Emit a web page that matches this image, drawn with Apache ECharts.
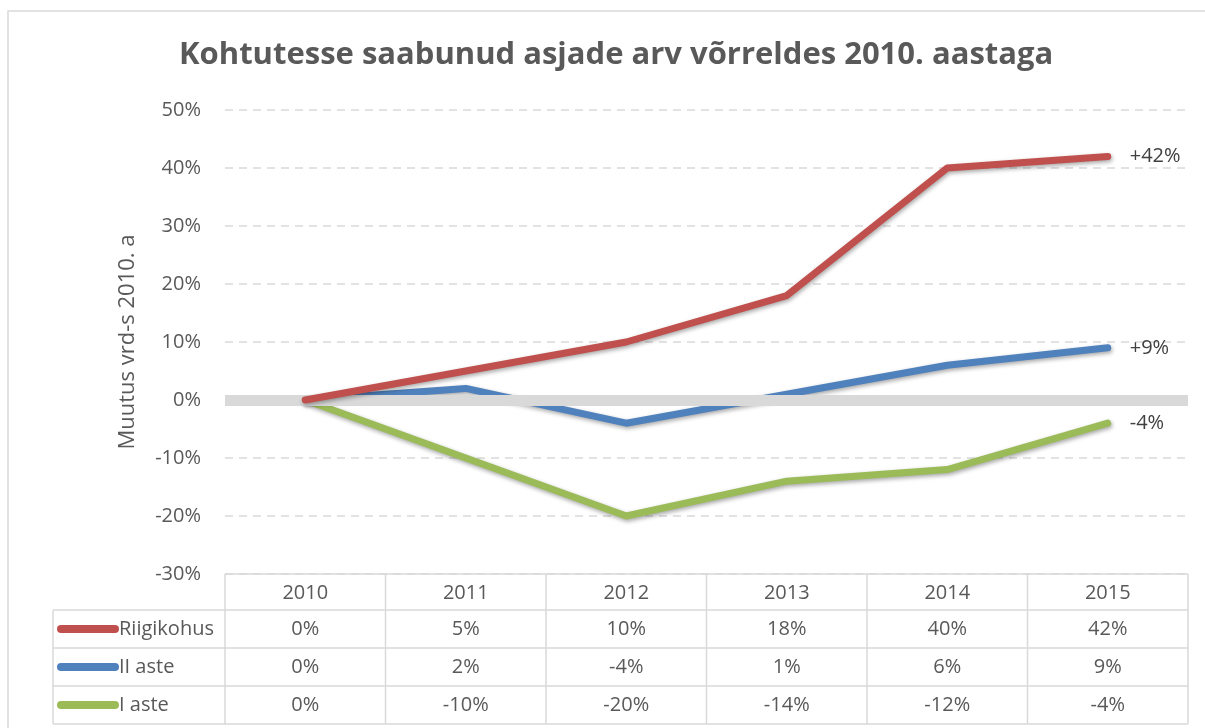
<!DOCTYPE html>
<html><head><meta charset="utf-8">
<script src="https://cdn.jsdelivr.net/npm/echarts@6/dist/echarts.min.js"></script>
<style>html,body{margin:0;padding:0;background:#fff}#c{width:1205px;height:728px}</style>
</head><body><div id="c"></div>
<script>
const titleText = 'Kohtutesse saabunud asjade arv võrreldes 2010. aastaga';
const yAxisName = 'Muutus vrd-s 2010. a';
const years = ['2010','2011','2012','2013','2014','2015'];
const seriesNames = ['Riigikohus','II aste','I aste'];
const riigikohus = [0, 5, 10, 18, 40, 42];
const iiAste = [0, 2, -4, 1, 6, 9];
const iAste = [0, -10, -20, -14, -12, -4];
const colors = ['#c0504d', '#4f81bd', '#9bbb59'];
const endLabels = ['+42%', '+9%', '-4%'];

const allData = [riigikohus, iiAste, iAste];
const FONT = '"Open Sans", "Liberation Sans", sans-serif';
const TXT = '#595959';
const FS = 20;

const chart = echarts.init(document.getElementById('c'));
const gridL = 225, gridR = 17, gridT = 110, gridB = 728 - 574;

const series = [{
  type: 'line', name: 'zero', data: [], z: 1, silent: true,
  markLine: { silent: true, symbol: 'none', label: {show: false},
    lineStyle: { color: '#d9d9d9', width: 11, type: 'solid' },
    data: [{ yAxis: 0 }] }
}];
allData.forEach((d, i) => {
  series.push({
    type: 'line', name: seriesNames[i], data: d, z: 3 + (2 - i),
    symbol: 'none', showSymbol: false, smooth: false,
    lineStyle: { color: colors[i], width: 7, cap: 'round', join: 'round',
      shadowColor: 'rgba(0,0,0,0.35)', shadowBlur: 4, shadowOffsetX: 1, shadowOffsetY: 2 },
    endLabel: { show: true, distance: 22, formatter: () => endLabels[i],
      color: '#404040', fontSize: FS, fontFamily: FONT },
    animation: false
  });
});

chart.setOption({
  animation: false,
  title: { text: titleText, left: 174, top: 35,
    textStyle: { fontFamily: FONT, fontWeight: 'bold', fontSize: 31, color: TXT } },
  grid: { left: gridL, right: gridR, top: gridT, bottom: gridB, containLabel: false },
  xAxis: { type: 'category', data: years, boundaryGap: true,
    axisLine: { show: false }, axisTick: { show: false },
    axisLabel: { color: TXT, fontSize: FS, fontFamily: FONT, margin: 9 } },
  yAxis: { type: 'value', min: -30, max: 50, interval: 10,
    name: yAxisName, nameLocation: 'middle', nameGap: 86, nameRotate: 90,
    nameTextStyle: { color: TXT, fontSize: 22, fontFamily: FONT },
    axisLabel: { formatter: v => v + '%', color: TXT, fontSize: FS, fontFamily: FONT, margin: 24 },
    axisLine: { show: false }, axisTick: { show: false },
    splitLine: { show: true, lineStyle: { color: '#d9d9d9', type: [8, 6], width: 1.5 } } },
  series: series
});

// Data table
const xs = years.map((_, i) => chart.convertToPixel({ xAxisIndex: 0 }, i));
const band = xs[1] - xs[0];
const tableL = 53, colL = xs[0] - band / 2, colR = xs[xs.length - 1] + band / 2;
const rowTop = 574, headH = 36, rowH = 38;
const lc = '#d9d9d9';
const g = [];
g.push({ type: 'rect', shape: { x: 8, y: 11, width: 1205, height: 740 }, style: { fill: 'none', stroke: '#d9d9d9', lineWidth: 1.5 }, z: 0 });
const bottomY = rowTop + headH + rowH * 3;
g.push({ type: 'line', shape: { x1: colL, y1: rowTop, x2: colR, y2: rowTop }, style: { stroke: lc, lineWidth: 1.5 } });
for (let r = 0; r <= 3; r++) {
  const y = rowTop + headH + rowH * r;
  g.push({ type: 'line', shape: { x1: tableL, y1: y, x2: colR, y2: y }, style: { stroke: lc, lineWidth: 1.5 } });
}
g.push({ type: 'line', shape: { x1: tableL, y1: rowTop + headH, x2: tableL, y2: bottomY }, style: { stroke: lc, lineWidth: 1.5 } });
for (let c = 0; c <= years.length; c++) {
  const x = colL + band * c;
  g.push({ type: 'line', shape: { x1: x, y1: rowTop, x2: x, y2: bottomY }, style: { stroke: lc, lineWidth: 1.5 } });
}
allData.forEach((d, r) => {
  const cy = rowTop + headH + rowH * r + rowH / 2;
  g.push({ type: 'line', shape: { x1: 61, y1: cy, x2: 115, y2: cy }, style: { stroke: colors[r], lineWidth: 8, lineCap: 'round' } });
  g.push({ type: 'text', x: 119, y: cy, style: { text: seriesNames[r], fill: TXT, fontSize: FS, fontFamily: FONT, verticalAlign: 'middle', align: 'left' } });
  d.forEach((v, i) => {
    g.push({ type: 'text', x: xs[i], y: cy, style: { text: v + '%', fill: TXT, fontSize: FS, fontFamily: FONT, verticalAlign: 'middle', align: 'center' } });
  });
});
chart.setOption({ graphic: { elements: g } });
</script></body></html>
